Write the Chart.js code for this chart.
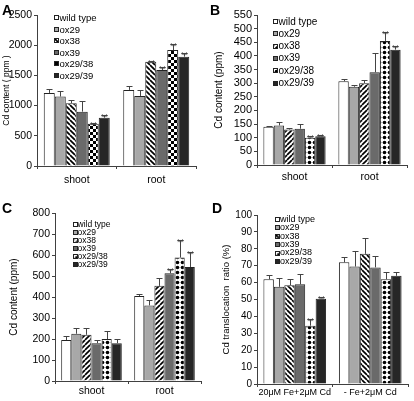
<!DOCTYPE html>
<html><head><meta charset="utf-8">
<script src="https://cdn.jsdelivr.net/npm/chart.js@4/dist/chart.umd.min.js"></script>
<style>
html,body{margin:0;padding:0;background:#fff;width:414px;height:401px;overflow:hidden;position:relative}
canvas{position:absolute}
.lg-sw{position:absolute;box-sizing:border-box;border:1px solid #222}
.lg-tx{position:absolute;white-space:nowrap;color:#000;font-family:"Liberation Sans",Arial,sans-serif}
.letter{position:absolute;font:bold 14px "Liberation Sans",Arial,sans-serif;color:#000;line-height:14px}
</style></head><body>
<canvas id="cA" width="207" height="200" style="left:0;top:0"></canvas>
<canvas id="cB" width="207" height="200" style="left:207px;top:0"></canvas>
<canvas id="cC" width="207" height="201" style="left:0;top:200px"></canvas>
<canvas id="cD" width="207" height="201" style="left:207px;top:200px"></canvas>
<script>
// ---------- data ----------
const seriesNames = ['wild type', 'ox29', 'ox38', 'ox39', 'ox29/38', 'ox29/39'];
const catsCd = ['shoot', 'root'];
const catsRatio = ['20\u03bcM Fe+2\u03bcM Cd', '- Fe+2\u03bcM Cd'];

// Panel A: Cd content (ppm), per series [shoot, root]
const meansA = [[1210, 1260], [1150, 1160], [1040, 1725], [900, 1590], [700, 1920], [800, 1810]];
const errsA  = [[70, 70], [90, 100], [60, 12], [180, 55], [15, 95], [40, 65]];
const starsA = [['', ''], ['', ''], ['', '**'], ['', '**'], ['**', '**'], ['**', '**']];
const yTicksA = [0, 500, 1000, 1500, 2000, 2500];

// Panel B
const meansB = [[140, 307], [145, 287], [130, 300], [133, 340], [100, 455], [105, 423]];
const errsB  = [[3, 8], [13, 7], [4, 12], [17, 70], [5, 32], [5, 12]];
const starsB = [['', ''], ['', ''], ['', ''], ['', ''], ['**', '**'], ['**', '**']];
const yTicksB = [0, 50, 100, 150, 200, 250, 300, 350, 400, 450, 500, 550];

// Panel C
const meansC = [[195, 405], [225, 360], [220, 453], [180, 513], [200, 588], [180, 543]];
const errsC  = [[18, 8], [28, 25], [33, 37], [15, 22], [40, 85], [18, 70]];
const starsC = [['', ''], ['', ''], ['', ''], ['', '**'], ['', '**'], ['', '**']];
const yTicksC = [0, 100, 200, 300, 400, 500, 600, 700, 800];

// Panel D: Cd translocation ratio (%)
const meansD = [[62, 72], [57.5, 69.5], [58.5, 77], [59, 69], [34.5, 62], [50.5, 64]];
const errsD  = [[2.3, 3], [5.5, 9], [3.5, 9.5], [6, 7], [4, 4], [0.8, 2]];
const starsD = [['', ''], ['', ''], ['', ''], ['', ''], ['**', ''], ['**', '']];
const yTicksD = [0, 10, 20, 30, 40, 50, 60, 70, 80, 90, 100];

// ---------- styling helpers ----------
const FONT = '"Liberation Sans", Arial, sans-serif';
const AX = '#404040';

function tile(s, draw) {
  const c = document.createElement('canvas'); c.width = s; c.height = s;
  const g = c.getContext('2d'); g.fillStyle = '#fff'; g.fillRect(0, 0, s, s);
  draw(g, s);
  return { pattern: g.createPattern(c, 'repeat'), css: 'url(' + c.toDataURL() + ')' };
}
function stripes(dir) {
  return tile(5, (g, s) => {
    g.strokeStyle = '#000'; g.lineWidth = 1.7;
    for (let k = -1; k <= 1; k++) {
      g.beginPath();
      if (dir === '/') { g.moveTo(k * s, s); g.lineTo(k * s + s, 0); }
      else { g.moveTo(k * s, 0); g.lineTo(k * s + s, s); }
      g.stroke();
    }
  });
}
function checker() {
  return tile(6, (g) => { g.fillStyle = '#000'; g.fillRect(0, 0, 3, 3); g.fillRect(3, 3, 3, 3); });
}
function dots() {
  return tile(5, (g) => { g.fillStyle = '#000'; g.beginPath(); g.arc(2.5, 2.5, 1.8, 0, Math.PI * 2); g.fill(); });
}

const errPlugin = {
  id: 'errbars',
  afterDatasetsDraw(chart) {
    const ctx = chart.ctx, y = chart.scales.y;
    ctx.save();
    chart.data.datasets.forEach((ds, i) => {
      chart.getDatasetMeta(i).data.forEach((bar, j) => {
        const v = ds.data[j], e = ds.err[j];
        const y0 = y.getPixelForValue(v), y1 = y.getPixelForValue(v + e);
        const x = Math.round(bar.x) + 0.5;
        ctx.strokeStyle = '#444'; ctx.lineWidth = 1;
        ctx.beginPath(); ctx.moveTo(x, y0); ctx.lineTo(x, Math.round(y1) + 0.5);
        ctx.moveTo(x - 3, Math.round(y1) + 0.5); ctx.lineTo(x + 3, Math.round(y1) + 0.5); ctx.stroke();
        if (ds.stars[j]) {
          ctx.fillStyle = '#444'; ctx.font = '9px ' + FONT;
          ctx.textAlign = 'center'; ctx.textBaseline = 'alphabetic';
          ctx.fillText(ds.stars[j], x, y1 + 5);
        }
      });
    });
    ctx.restore();
  }
};

// HTML legend + panel letter (real text, outside the canvas)
function addLegend(ox, oy, css, lg) {
  seriesNames.forEach((n, i) => {
    const yc = oy + lg.y0 + i * lg.dy;
    const sw = document.createElement('div');
    sw.className = 'lg-sw';
    sw.style.left = (ox + lg.sx) + 'px';
    sw.style.top = Math.round(yc - lg.sw / 2) + 'px';
    sw.style.width = lg.sw + 'px'; sw.style.height = lg.sw + 'px';
    const bg = css[i];
    if (bg.startsWith('url')) { sw.style.backgroundImage = bg; sw.style.backgroundColor = '#fff'; }
    else sw.style.backgroundColor = bg;
    document.body.appendChild(sw);
    const tx = document.createElement('div');
    tx.className = 'lg-tx';
    const lh = Math.round(lg.size * 1.2);
    tx.style.fontSize = lg.size + 'px'; tx.style.lineHeight = lh + 'px';
    tx.style.left = (ox + lg.tx) + 'px';
    tx.style.top = (yc - lh / 2) + 'px';
    tx.textContent = n;
    document.body.appendChild(tx);
  });
  const L = document.createElement('div');
  L.className = 'letter';
  L.style.left = (ox + lg.lx) + 'px';
  L.style.top = (oy + lg.ly - 12) + 'px';
  L.textContent = lg.letter;
  document.body.appendChild(L);
}

function makeChart(id, ox, oy, p) {
  const cv = document.getElementById(id);
  const W = cv.width, H = cv.height;
  const fills = ['#ffffff', '#a8a8a8', p.p38.pattern, '#6a6a6a', p.p2938.pattern, '#262626'];
  const css = ['#ffffff', '#a8a8a8', p.p38.css, '#6a6a6a', p.p2938.css, '#262626'];
  const datasets = seriesNames.map((n, i) => ({
    label: n, data: p.means[i], err: p.errs[i], stars: p.stars[i],
    backgroundColor: fills[i], borderColor: '#222', borderWidth: 1,
    barPercentage: 1, categoryPercentage: 0.83
  }));
  new Chart(cv, {
    type: 'bar',
    data: { labels: p.cats, datasets },
    plugins: [errPlugin],
    options: {
      responsive: false, animation: false, devicePixelRatio: 1,
      events: [],
      layout: { padding: { left: 0, top: p.area.t, right: W - p.area.r, bottom: 0 } },
      plugins: { legend: { display: false }, tooltip: { enabled: false } },
      scales: {
        x: {
          grid: { display: true, offset: true, drawOnChartArea: false, tickLength: 3, color: AX },
          border: { display: true, color: AX },
          ticks: { color: '#000', font: { family: FONT, size: p.xFont }, padding: p.xPad, maxRotation: 0, autoSkip: false },
          afterFit: s => { s.height = H - p.area.b; }
        },
        y: {
          min: p.yTicks[0], max: p.yTicks[p.yTicks.length - 1],
          grid: { display: true, drawOnChartArea: false, tickLength: 3, color: AX },
          border: { display: true, color: AX },
          ticks: {
            stepSize: p.yTicks[1] - p.yTicks[0], autoSkip: false,
            callback: v => String(v),
            color: '#000', font: { family: FONT, size: p.yFont }, padding: 2
          },
          title: { display: true, text: p.title, color: '#000', font: { family: FONT, size: p.titleFont }, padding: { top: p.titlePad, bottom: 0 } },
          afterFit: s => { s.width = p.area.l; }
        }
      }
    }
  });
  addLegend(ox, oy, css, p.legend);
}

makeChart('cA', 0, 0, {
  cats: catsCd, means: meansA, errs: errsA, stars: starsA, yTicks: yTicksA,
  p38: stripes('\\'), p2938: checker(),
  area: { l: 37, r: 196, t: 15, b: 166 }, xFont: 10.5, xPad: 5, yFont: 10.5,
  title: 'Cd content ( ppm )', titleFont: 8.5, titlePad: 2,
  legend: { sx: 54, sw: 5, tx: 59.5, y0: 17.5, dy: 11.5, size: 9.5, letter: 'A', lx: 2, ly: 15 }
});
makeChart('cB', 207, 0, {
  cats: catsCd, means: meansB, errs: errsB, stars: starsB, yTicks: yTicksB,
  p38: stripes('/'), p2938: dots(),
  area: { l: 50, r: 200, t: 15, b: 165 }, xFont: 10.5, xPad: 3, yFont: 11,
  title: 'Cd content (ppm)', titleFont: 10, titlePad: 6,
  legend: { sx: 66, sw: 5, tx: 71.5, y0: 21.5, dy: 12.3, size: 10, letter: 'B', lx: 3, ly: 15 }
});
makeChart('cC', 0, 200, {
  cats: catsCd, means: meansC, errs: errsC, stars: starsC, yTicks: yTicksC,
  p38: stripes('/'), p2938: dots(),
  area: { l: 55, r: 201, t: 13, b: 181 }, xFont: 10.5, xPad: 1, yFont: 10.5,
  title: 'Cd content (ppm)', titleFont: 10, titlePad: 8,
  legend: { sx: 73, sw: 4.5, tx: 77.5, y0: 24.3, dy: 8, size: 8.5, letter: 'C', lx: 2, ly: 13 }
});
makeChart('cD', 207, 200, {
  cats: catsRatio, means: meansD, errs: errsD, stars: starsD, yTicks: yTicksD,
  p38: stripes('\\'), p2938: dots(),
  area: { l: 50, r: 201, t: 15, b: 184 }, xFont: 9, xPad: 0, yFont: 10,
  title: 'Cd translocation  ratio (%)', titleFont: 9.5, titlePad: 14,
  legend: { sx: 68, sw: 4.5, tx: 73, y0: 19.3, dy: 8.4, size: 9, letter: 'D', lx: 5, ly: 13 }
});
</script>
</body></html>
